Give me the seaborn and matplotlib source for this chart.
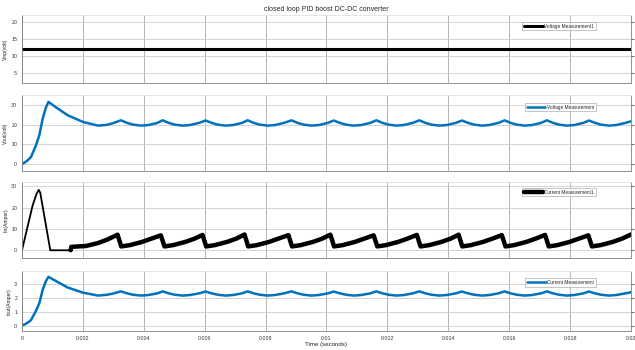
# Scope of a closed loop PID boost DC-DC converter (Simulink style, 4 panels)
import matplotlib
matplotlib.use("Agg")
import matplotlib.pyplot as plt
import seaborn as sns
import pandas as pd

# Input voltage (volt)
vin_t = [0.0, 0.02]
vin = [12.0, 12.0]

# Output voltage / output current share the same time breakpoints (seconds)
vout_t = [0.0, 0.0001, 0.0002, 0.0003, 0.00046, 0.00057, 0.00068, 0.00078, 0.00087,
          0.0011, 0.0015, 0.002, 0.0025, 0.0028, 0.003,
          0.00325, 0.00345, 0.00365, 0.00391, 0.00415, 0.00445,
          0.00462, 0.00482, 0.00502, 0.00528, 0.00552, 0.00582,
          0.00603, 0.00623, 0.00643, 0.00669, 0.00693, 0.00723,
          0.00741, 0.00761, 0.00781, 0.00807, 0.00831, 0.00861,
          0.00885, 0.00905, 0.00925, 0.00951, 0.00975, 0.01005,
          0.01024, 0.01044, 0.01064, 0.0109, 0.01114, 0.01144,
          0.01164, 0.01184, 0.01204, 0.0123, 0.01254, 0.01284,
          0.01305, 0.01325, 0.01345, 0.01371, 0.01395, 0.01425,
          0.01445, 0.01465, 0.01485, 0.01511, 0.01535, 0.01565,
          0.01585, 0.01605, 0.01625, 0.01651, 0.01675, 0.01705,
          0.01724, 0.01744, 0.01764, 0.0179, 0.01814, 0.01844,
          0.01862, 0.01882, 0.01902, 0.01928, 0.01952, 0.01982,
          0.02]

vout = [0.0, 0.8, 2.0, 3.6, 9.5, 14.6, 23.0, 28.5, 31.6,
        29.0, 24.8, 21.4, 19.5, 19.9, 20.8,
        22.2, 20.9, 20.0, 19.5, 19.8, 20.9,
        22.2, 20.9, 20.0, 19.5, 19.8, 20.9,
        22.1, 20.9, 20.0, 19.5, 19.8, 20.9,
        22.2, 20.9, 20.0, 19.5, 19.8, 20.9,
        22.2, 20.9, 20.0, 19.5, 19.8, 20.9,
        22.1, 20.9, 20.0, 19.5, 19.8, 20.9,
        22.2, 20.9, 20.0, 19.5, 19.8, 20.9,
        22.2, 20.9, 20.0, 19.5, 19.8, 20.9,
        22.1, 20.9, 20.0, 19.5, 19.8, 20.9,
        22.2, 20.9, 20.0, 19.5, 19.8, 20.9,
        22.2, 20.9, 20.0, 19.5, 19.8, 20.9,
        22.1, 20.9, 20.0, 19.5, 19.8, 20.9,
        21.7]

iout = [0.0, 0.09, 0.22, 0.4, 1.05, 1.6, 2.55, 3.15, 3.48,
        3.2, 2.72, 2.35, 2.14, 2.2, 2.29,
        2.44, 2.3, 2.2, 2.14, 2.18, 2.3,
        2.44, 2.3, 2.2, 2.14, 2.18, 2.3,
        2.43, 2.3, 2.2, 2.14, 2.18, 2.3,
        2.44, 2.3, 2.2, 2.14, 2.18, 2.3,
        2.44, 2.3, 2.2, 2.14, 2.18, 2.3,
        2.43, 2.3, 2.2, 2.14, 2.18, 2.3,
        2.44, 2.3, 2.2, 2.14, 2.18, 2.3,
        2.44, 2.3, 2.2, 2.14, 2.18, 2.3,
        2.43, 2.3, 2.2, 2.14, 2.18, 2.3,
        2.44, 2.3, 2.2, 2.14, 2.18, 2.3,
        2.44, 2.3, 2.2, 2.14, 2.18, 2.3,
        2.43, 2.3, 2.2, 2.14, 2.18, 2.3,
        2.38]

# Input current: start-up spike, then the switching sawtooth
iin_start_t = [0.0, 0.0002, 0.00035, 0.00048, 0.00055, 0.0006, 0.00093, 0.0016]
iin_start = [0.0, 12.0, 21.0, 26.5, 28.3, 27.0, 0.0, 0.0]

iin_t = [0.0016, 0.00162, 0.0021, 0.0025, 0.0028,
         0.00314, 0.00326, 0.00354, 0.00394, 0.00424,
         0.00456, 0.00468, 0.00496, 0.00536, 0.00566,
         0.00593, 0.00605, 0.00633, 0.00673, 0.00703,
         0.00731, 0.00743, 0.00771, 0.00811, 0.00841,
         0.00875, 0.00887, 0.00915, 0.00955, 0.00985,
         0.01013, 0.01025, 0.01053, 0.01093, 0.01123,
         0.01155, 0.01167, 0.01195, 0.01235, 0.01265,
         0.01297, 0.01309, 0.01337, 0.01377, 0.01407,
         0.01434, 0.01446, 0.01474, 0.01514, 0.01544,
         0.01576, 0.01588, 0.01616, 0.01656, 0.01686,
         0.01718, 0.0173, 0.01758, 0.01798, 0.01828,
         0.0186, 0.01872, 0.019, 0.0194, 0.0197,
         0.02]
iin = [0.0, 1.6, 2.0, 3.4, 5.0,
       7.3, 1.8, 2.4, 3.9, 5.4,
       7.0, 1.8, 2.4, 3.9, 5.4,
       7.2, 1.8, 2.4, 3.9, 5.4,
       7.4, 1.8, 2.4, 3.9, 5.4,
       7.1, 1.8, 2.4, 3.9, 5.4,
       7.3, 1.8, 2.4, 3.9, 5.4,
       7.0, 1.8, 2.4, 3.9, 5.4,
       7.2, 1.8, 2.4, 3.9, 5.4,
       7.3, 1.8, 2.4, 3.9, 5.4,
       7.1, 1.8, 2.4, 3.9, 5.4,
       7.2, 1.8, 2.4, 3.9, 5.4,
       7.0, 1.8, 2.4, 3.9, 5.4,
       7.4]

x_ticks = [0, 0.002, 0.004, 0.006, 0.008, 0.01, 0.012, 0.014, 0.016, 0.018, 0.02]
x_labels = ["0", "0.002", "0.004", "0.006", "0.008", "0.01", "0.012", "0.014",
            "0.016", "0.018", "0.02"]

BLUE = "#0072BD"

sns.set_theme(style="white")
plt.rcParams["font.family"] = ["Liberation Sans", "DejaVu Sans"]


def style_axis(ax, ylim, yticks, ylabel, show_x):
    ax.set_xlim(0, 0.02)
    ax.set_ylim(*ylim)
    ax.set_yticks(yticks)
    ax.set_xticks(x_ticks)
    ax.set_xticklabels(x_labels if show_x else [])
    ax.grid(True, axis="y", color="#cccccc", lw=0.6)
    ax.grid(True, axis="x", color="#a8a8a8", lw=0.6)
    ax.tick_params(axis="both", direction="out", length=2, width=0.5,
                   labelsize=3.8, colors="#333333", pad=1.5, right=True)
    ax.set_ylabel(ylabel, fontsize=3.6, labelpad=2, color="#222222")
    ax.set_xlabel("")
    for name, sp in ax.spines.items():
        sp.set_linewidth(0.6)
        sp.set_color("#e0e0e0" if name == "top" else "#808080")
    ax.set_facecolor("white")


def add_legend(ax, anchor):
    leg = ax.legend(loc="upper right", bbox_to_anchor=anchor, fontsize=3.4,
                    handlelength=4, handletextpad=0.3, borderpad=0.35,
                    frameon=True, fancybox=False)
    leg.get_frame().set_edgecolor("#999999")
    leg.get_frame().set_linewidth(0.5)


fig = plt.figure(figsize=(6.35, 3.5), dpi=100)
ax1 = fig.add_axes([0.0346, 0.763, 0.959, 0.194])
ax2 = fig.add_axes([0.0346, 0.511, 0.959, 0.217])
ax3 = fig.add_axes([0.0346, 0.263, 0.959, 0.217])
ax4 = fig.add_axes([0.0346, 0.054, 0.959, 0.171])

# Vinp
sns.lineplot(x=vin_t, y=vin, ax=ax1, color="black", lw=2.2,
             estimator=None, sort=False, label="Voltage Measurement1")
style_axis(ax1, (1.9, 22.2), [5, 10, 15, 20], "Vinp(volt)", False)
add_legend(ax1, (0.946, 0.93))
ax1.set_title("closed loop PID boost DC-DC converter", fontsize=5, pad=3)

# Vout
sns.lineplot(x=vout_t, y=vout, ax=ax2, color=BLUE, lw=1.8,
             estimator=None, sort=False, label="Voltage Measurement")
style_axis(ax2, (-3.7, 35.0), [0, 10, 20, 30], "Vout(volt)", False)
add_legend(ax2, (0.946, 0.93))

# Iin
sns.lineplot(x=iin_start_t, y=iin_start, ax=ax3, color="black", lw=1.3,
             estimator=None, sort=False)
sns.lineplot(x=iin_t, y=iin, ax=ax3, color="black", lw=3.2,
             estimator=None, sort=False, label="Current Measurement1")
style_axis(ax3, (-3.6, 32.0), [0, 10, 20, 30], "Iin(Amper)", False)
add_legend(ax3, (0.946, 0.95))

# Iout
sns.lineplot(x=vout_t, y=iout, ax=ax4, color=BLUE, lw=1.8,
             estimator=None, sort=False, label="Current Measurement")
style_axis(ax4, (-0.4, 3.88), [0, 1, 2, 3], "Iout(Amper)", True)
add_legend(ax4, (0.946, 0.92))
ax4.set_xlabel("Time (seconds)", fontsize=4.4, labelpad=1, color="#222222")

fig.savefig("out.png", dpi=100, facecolor="white")
